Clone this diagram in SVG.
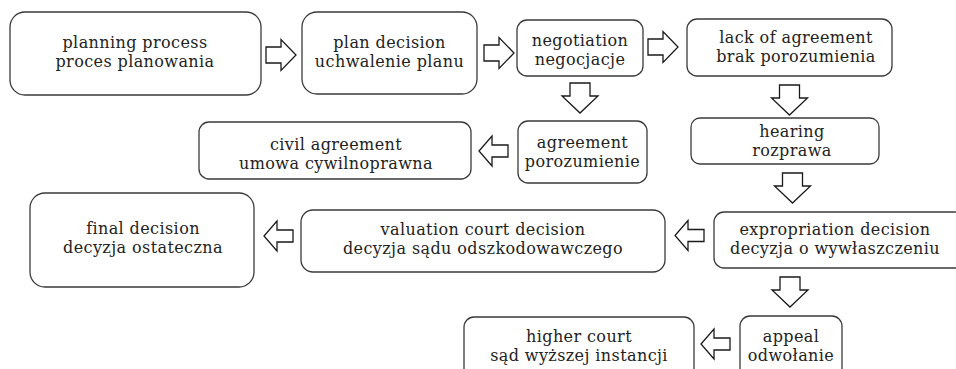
<svg xmlns="http://www.w3.org/2000/svg" width="956" height="369" viewBox="0 0 956 369">
  <defs>
    <style>
      .box { fill: #fff; stroke: #3a3a3a; stroke-width: 1.3; }
      .lbl { font-family: "DejaVu Serif", "Liberation Serif", serif; font-size: 16px; letter-spacing: 0.4px; fill: #222; text-anchor: middle; }
      .arr { fill: #fff; stroke: #1a1a1a; stroke-width: 1.3; stroke-linejoin: miter; }
    </style>
    <!-- block arrows, drawn from their tail at the origin -->
    <path id="arrowRight" d="M0,-8 H15 V-15.5 L30,0 L15,15.5 V8 H0 Z"/>
    <path id="arrowLeft" d="M0,-6 H-16 V-15 L-29,0 L-16,15 V6 H0 Z"/>
    <path id="arrowDown" d="M-10,0 V13 H-18 L0,30 L18,13 H10 V0 Z"/>
  </defs>
  <rect width="956" height="369" fill="#fff"/>

  <g id="planning-process">
    <rect class="box" x="10" y="12" width="251" height="83" rx="15"/>
    <text class="lbl" x="135" y="47.5">planning process</text>
    <text class="lbl" x="135" y="66.5">proces planowania</text>
  </g>

  <g id="plan-decision">
    <rect class="box" x="302" y="12" width="175" height="82" rx="15"/>
    <text class="lbl" x="389.5" y="47.5">plan decision</text>
    <text class="lbl" x="389.5" y="66.5">uchwalenie planu</text>
  </g>

  <g id="negotiation">
    <rect class="box" x="517" y="20" width="126" height="56" rx="10"/>
    <text class="lbl" x="580" y="46">negotiation</text>
    <text class="lbl" x="580" y="65">negocjacje</text>
  </g>

  <g id="lack-of-agreement">
    <rect class="box" x="687" y="19" width="205" height="57" rx="10"/>
    <text class="lbl" x="796" y="42.5">lack of agreement</text>
    <text class="lbl" x="796" y="61.5">brak porozumienia</text>
  </g>

  <g id="agreement">
    <rect class="box" x="518" y="121" width="129" height="62" rx="10"/>
    <text class="lbl" x="582.5" y="148">agreement</text>
    <text class="lbl" x="582.5" y="167">porozumienie</text>
  </g>

  <g id="civil-agreement">
    <rect class="box" x="199" y="122" width="272" height="57" rx="10"/>
    <text class="lbl" x="336" y="149.5">civil agreement</text>
    <text class="lbl" x="336" y="168.5">umowa cywilnoprawna</text>
  </g>

  <g id="hearing">
    <rect class="box" x="691" y="118" width="188" height="46" rx="9"/>
    <text class="lbl" x="792" y="137">hearing</text>
    <text class="lbl" x="792" y="156">rozprawa</text>
  </g>

  <g id="final-decision">
    <rect class="box" x="30" y="193" width="224" height="94" rx="15"/>
    <text class="lbl" x="143" y="234">final decision</text>
    <text class="lbl" x="143" y="253">decyzja ostateczna</text>
  </g>

  <g id="valuation-court-decision">
    <rect class="box" x="301" y="210" width="364" height="62" rx="12"/>
    <text class="lbl" x="483" y="234.5">valuation court decision</text>
    <text class="lbl" x="483" y="253.5">decyzja sądu odszkodowawczego</text>
  </g>

  <g id="expropriation-decision">
    <rect class="box" x="714" y="212" width="250" height="56" rx="10"/>
    <text class="lbl" x="835" y="234.5">expropriation decision</text>
    <text class="lbl" x="835" y="253.5">decyzja o wywłaszczeniu</text>
  </g>

  <g id="appeal">
    <rect class="box" x="740" y="316" width="102" height="62" rx="10"/>
    <text class="lbl" x="791" y="341.5">appeal</text>
    <text class="lbl" x="791" y="360.5">odwołanie</text>
  </g>

  <g id="higher-court">
    <rect class="box" x="464" y="317" width="230" height="62" rx="10"/>
    <text class="lbl" x="579" y="341.5">higher court</text>
    <text class="lbl" x="579" y="360.5">sąd wyższej instancji</text>
  </g>

  <g id="connectors">
    <use href="#arrowRight" class="arr" transform="translate(266,55)"/>
    <use href="#arrowRight" class="arr" transform="translate(484,53)"/>
    <use href="#arrowRight" class="arr" transform="translate(648,47)"/>
    <use href="#arrowDown" class="arr" transform="translate(580,83)"/>
    <use href="#arrowDown" class="arr" transform="translate(789.5,85)"/>
    <use href="#arrowLeft" class="arr" transform="translate(508,151)"/>
    <use href="#arrowDown" class="arr" transform="translate(792.5,173)"/>
    <use href="#arrowLeft" class="arr" transform="translate(704,235.5)"/>
    <use href="#arrowLeft" class="arr" transform="translate(293,236)"/>
    <use href="#arrowDown" class="arr" transform="translate(790,277)"/>
    <use href="#arrowLeft" class="arr" transform="translate(730,344)"/>
  </g>
</svg>
